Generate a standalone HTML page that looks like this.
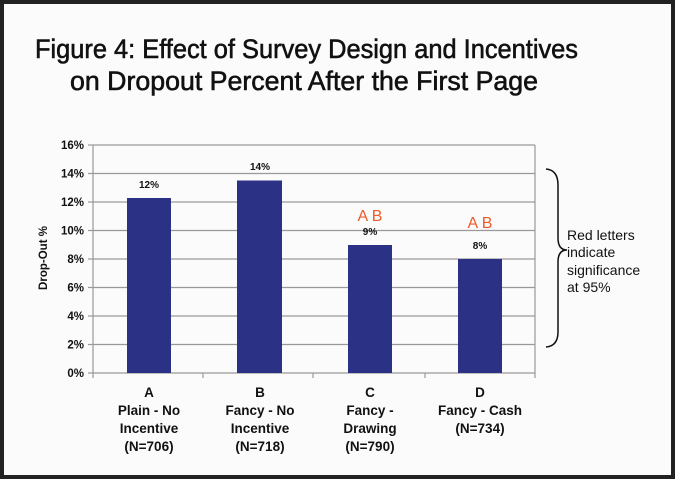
<!DOCTYPE html>
<html><head><style>
html,body{margin:0;padding:0;background:#fff}
svg{display:block}
</style></head><body>
<svg width="675" height="479" xmlns="http://www.w3.org/2000/svg" font-family="Liberation Sans, Arial, sans-serif">
<rect x="0" y="0" width="675" height="479" fill="#fbfbfb"/>
<rect x="2" y="2" width="671" height="475" fill="none" stroke="#222" stroke-width="4"/>
<g font-family="Liberation Sans Narrow, Liberation Sans, sans-serif" font-size="27" fill="#111" stroke="#111" stroke-width="0.6">
<text x="35" y="58" textLength="543" lengthAdjust="spacingAndGlyphs">Figure 4: Effect of Survey Design and Incentives</text>
<text x="70" y="90" textLength="468" lengthAdjust="spacingAndGlyphs">on Dropout Percent After the First Page</text>
</g>
<g stroke="#999" stroke-width="1.2">
<line x1="93" y1="145" x2="535" y2="145"/><line x1="93" y1="173.5" x2="535" y2="173.5"/>
<line x1="93" y1="202" x2="535" y2="202"/><line x1="93" y1="230.5" x2="535" y2="230.5"/>
<line x1="93" y1="259" x2="535" y2="259"/><line x1="93" y1="287.5" x2="535" y2="287.5"/>
<line x1="93" y1="316" x2="535" y2="316"/><line x1="93" y1="344.5" x2="535" y2="344.5"/>
<line x1="93" y1="373" x2="535" y2="373"/>
<line x1="93" y1="145" x2="93" y2="378"/><line x1="535" y1="145" x2="535" y2="378"/>
<line x1="88" y1="145" x2="93" y2="145"/><line x1="88" y1="173.5" x2="93" y2="173.5"/><line x1="88" y1="202" x2="93" y2="202"/><line x1="88" y1="230.5" x2="93" y2="230.5"/><line x1="88" y1="259" x2="93" y2="259"/><line x1="88" y1="287.5" x2="93" y2="287.5"/><line x1="88" y1="316" x2="93" y2="316"/><line x1="88" y1="344.5" x2="93" y2="344.5"/><line x1="88" y1="373" x2="93" y2="373"/>
<line x1="203" y1="373" x2="203" y2="378"/><line x1="313" y1="373" x2="313" y2="378"/><line x1="425" y1="373" x2="425" y2="378"/>
</g>
<g fill="#2b3185">
<rect x="127" y="198" width="44" height="175"/>
<rect x="237" y="180.5" width="45" height="192.5"/>
<rect x="348" y="245" width="44" height="128"/>
<rect x="458" y="259" width="44" height="114"/>
</g>
<g font-size="11.5" font-weight="bold" fill="#111" text-anchor="end">
<text x="84" y="149">16%</text><text x="84" y="177.5">14%</text><text x="84" y="206">12%</text><text x="84" y="234.5">10%</text><text x="84" y="263">8%</text><text x="84" y="291.5">6%</text><text x="84" y="320">4%</text><text x="84" y="348.5">2%</text><text x="84" y="377">0%</text>
</g>
<text transform="translate(47,258) rotate(-90)" font-size="11.5" font-weight="bold" text-anchor="middle" fill="#111">Drop-Out %</text>
<g font-size="10" font-weight="bold" text-anchor="middle" fill="#111">
<text x="149" y="188">12%</text><text x="260" y="170">14%</text><text x="370" y="235">9%</text><text x="480" y="249">8%</text>
</g>
<g font-size="16" text-anchor="middle" fill="#f05a28">
<text x="370" y="221">A B</text><text x="480" y="228">A B</text>
</g>
<g font-size="13.5" font-weight="bold" text-anchor="middle" fill="#111">
<text x="149" y="397">A</text><text x="149" y="415">Plain - No</text><text x="149" y="433">Incentive</text><text x="149" y="451">(N=706)</text>
<text x="260" y="397">B</text><text x="260" y="415">Fancy - No</text><text x="260" y="433">Incentive</text><text x="260" y="451">(N=718)</text>
<text x="370" y="397">C</text><text x="370" y="415">Fancy -</text><text x="370" y="433">Drawing</text><text x="370" y="451">(N=790)</text>
<text x="480" y="397">D</text><text x="480" y="415">Fancy - Cash</text><text x="480" y="433">(N=734)</text>
</g>
<path d="M546,169 Q558,170 558,185 L558,238 Q558,250 567,250 Q558,250 558,262 L558,332 Q558,346 546,347" fill="none" stroke="#111" stroke-width="1.5"/>
<g font-size="14" fill="#111">
<text x="567" y="240">Red letters</text><text x="567" y="257">indicate</text><text x="567" y="275">significance</text><text x="567" y="292">at 95%</text>
</g>
</svg>
</body></html>
